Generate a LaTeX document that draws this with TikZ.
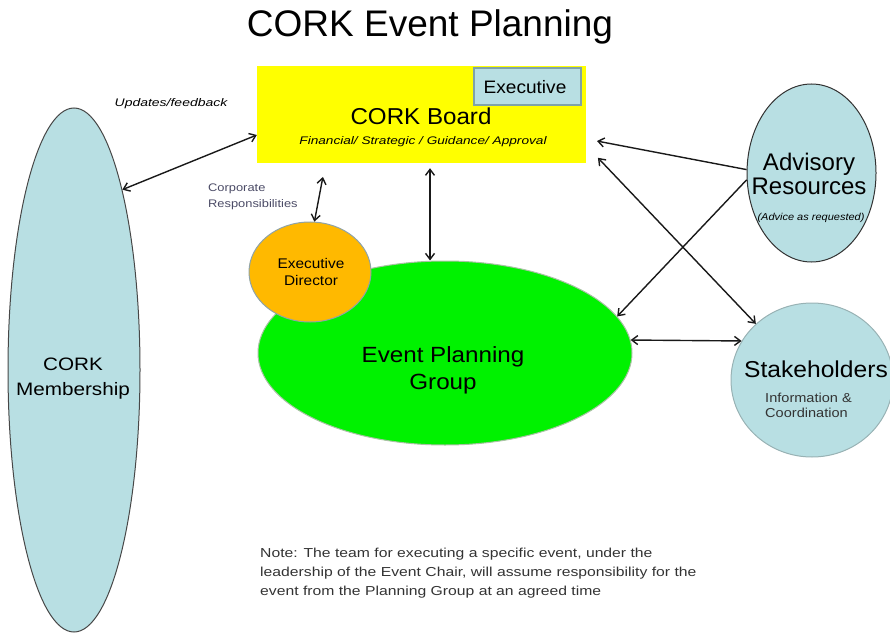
\documentclass[tikz,border=0pt]{standalone}
\usepackage{fontspec}
\setmainfont{Liberation Sans}
\usepackage{graphicx}
\usetikzlibrary{shapes.geometric,arrows.meta,calc}
\definecolor{paleblue}{HTML}{B8DFE3}
\definecolor{epggreen}{HTML}{00F200}
\definecolor{dirorange}{HTML}{FFB900}
\definecolor{boardyellow}{HTML}{FFFF00}
\definecolor{execborder}{HTML}{7FA3A8}
\definecolor{epgborder}{HTML}{A9C2A4}
\definecolor{dirborder}{HTML}{8FA3A8}
\definecolor{stakeborder}{HTML}{98B2B4}
\definecolor{corpcol}{HTML}{4B4B66}
\definecolor{notecol}{HTML}{333333}
\newcommand{\sx}[2]{\scalebox{#1}[1]{#2}}
\newcommand{\lns}[2]{\begin{tabular}[t]{@{}#1@{}}#2\end{tabular}}
\begin{document}
\begin{tikzpicture}[x=1pt,y=-1pt,
  conn/.style={draw=black!90, line width=1.4pt},
  tip/.tip={Straight Barb[length=6pt,width=9pt]},
  dbl/.style={conn,tip-tip},
  one/.style={conn,-tip},
  oval/.style={ellipse, inner sep=0pt, line width=1pt},
  lbl/.style={inner sep=0pt, anchor=base, text=black},
  lblw/.style={inner sep=0pt, anchor=base west}]
\useasboundingbox (0,0) rectangle (890,644);

% shapes
\node[oval, draw=black!72, fill=paleblue, minimum width=132pt, minimum height=524pt] (membership) at (74,370) {};
\node[rectangle, fill=boardyellow, minimum width=329pt, minimum height=97pt, inner sep=0pt] (board) at (421.5,114.5) {};
\node[rectangle, draw=execborder, line width=1.2pt, fill=paleblue, minimum width=107pt, minimum height=37pt, inner sep=0pt] (exec) at (527.5,86.5) {};
\node[oval, draw=epgborder, fill=epggreen, minimum width=374pt, minimum height=184pt] (epg) at (445,353) {};
\node[oval, draw=dirborder, fill=dirorange, minimum width=122pt, minimum height=100pt] (director) at (310,272) {};
\node[oval, draw=black!80, fill=paleblue, minimum width=129pt, minimum height=178pt] (advisory) at (811.5,173) {};
\node[oval, draw=stakeborder, fill=paleblue, minimum width=162pt, minimum height=154pt] (stake) at (812,380) {};

% texts
\node[lbl, font=\fontsize{37}{44}\selectfont] (title) at (430,37) {CORK Event Planning};
\node[lbl, font=\fontsize{23}{28}\selectfont] (boardtxt) at (421,125) {\sx{1.05}{CORK Board}};
\node[lbl, font=\fontsize{11}{13}\selectfont\itshape] (boardsub) at (423,145) {\sx{1.24}{Financial/ Strategic / Guidance/ Approval}};
\node[lbl, font=\fontsize{18}{22}\selectfont] (exectxt) at (525,94) {\sx{1.06}{Executive}};
\node[lbl, font=\fontsize{11}{13}\selectfont\itshape] (updates) at (171,107) {\sx{1.27}{Updates/feedback}};
\node[lblw, text=corpcol, font=\fontsize{11}{16}\selectfont] (corp) at (208,192) {\sx{1.17}{\lns{l}{Corporate\\Responsibilities}}};
\node[lbl, font=\fontsize{18}{25}\selectfont] (memtxt) at (73,370) {\sx{1.15}{\lns{c}{CORK\\Membership}}};
\node[lbl, font=\fontsize{14}{17}\selectfont] (dirtxt) at (311,268) {\sx{1.1}{\lns{c}{Executive\\Director}}};
\node[lbl, font=\fontsize{22}{27}\selectfont] (epgtxt) at (443,362) {\sx{1.1}{\lns{c}{Event Planning\\Group}}};
\node[lbl, font=\fontsize{24}{24}\selectfont] (advtxt) at (809,171) {\lns{c}{Advisory\\Resources}};
\node[lbl, font=\fontsize{10}{12}\selectfont\itshape] (advsub) at (811,220) {\sx{1.1}{(Advice as requested)}};
\node[lbl, font=\fontsize{23}{28}\selectfont] (staketxt) at (816,377) {\sx{1.07}{Stakeholders}};
\node[lblw, text=notecol, font=\fontsize{13}{15}\selectfont] (stakesub) at (765,402) {\sx{1.12}{\lns{l}{Information \&\\Coordination}}};
\node[lblw, text=notecol, font=\fontsize{13}{19}\selectfont] (note) at (260,557) {\sx{1.21}{\lns{l}{Note: The team for executing a specific event, under the\\leadership of the Event Chair, will assume responsibility for the\\event from the Planning Group at an agreed time}}};

% connectors
\draw[dbl] (membership.75) -- ([yshift=-20.5pt]board.west);
\draw[dbl, shorten >=14pt] (director.85) -- ([xshift=-96pt]board.south);
\coordinate (b3) at ([xshift=8.5pt]board.south);
\draw[dbl, shorten <=5pt] (b3) -- (b3 |- epg.north);
\draw[one, shorten >=11pt] (advisory.177) -- ([yshift=-24.5pt]board.east);
\draw[dbl, shorten <=17pt] ([yshift=-31pt]board.east) -- (stake.135);
\draw[one] (advisory.186) -- (epg.12);
\draw[dbl] (epg.4) -- (stake.151);
\end{tikzpicture}
\end{document}
